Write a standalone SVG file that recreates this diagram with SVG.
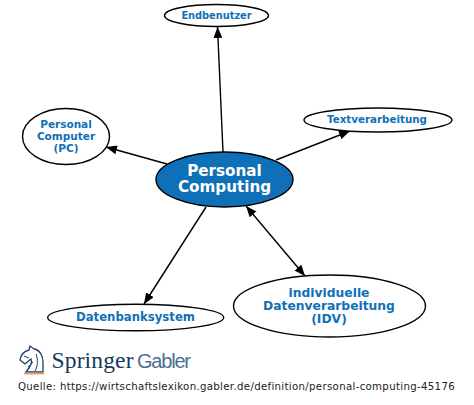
<svg xmlns="http://www.w3.org/2000/svg" width="474" height="405" viewBox="0 0 474 405">
<style>
.n{fill:#fff;stroke:#000;stroke-width:1.4}
.t{font-family:"DejaVu Sans",sans-serif;font-weight:bold;fill:#0f70b7;text-anchor:middle}
.c{stroke:#000;stroke-width:1.4;fill:none}
</style>
<defs>
<marker id="a" markerUnits="userSpaceOnUse" markerWidth="12" markerHeight="9" refX="11" refY="4.500" orient="auto-start-reverse"><path d="M0 0L11 4.500L0 9Z" fill="#000"/></marker>
</defs>
<rect width="474" height="405" fill="#fff"/>
<g id="connectors">
<path class="c" marker-end="url(#a)" d="M223 152L217.500 27"/>
<path class="c" marker-end="url(#a)" d="M167 164L106 147"/>
<path class="c" marker-end="url(#a)" d="M276 160L350 131"/>
<path class="c" marker-end="url(#a)" d="M206 207L144 304"/>
<path class="c" marker-start="url(#a)" marker-end="url(#a)" d="M246 206L305 276"/>
</g>
<g id="node-endbenutzer"><ellipse class="n" cx="216.500" cy="15.500" rx="52" ry="11"/><text class="t" x="216.500" y="19" font-size="9.800">Endbenutzer</text></g>
<g id="node-pc"><ellipse class="n" cx="66" cy="136.500" rx="43.500" ry="28"/><text class="t" font-size="10.500" x="66" y="128">Personal</text><text class="t" font-size="10.500" x="66" y="140">Computer</text><text class="t" font-size="10.500" x="66" y="151.500">(PC)</text></g>
<g id="node-central"><ellipse cx="224.500" cy="179.500" rx="68.500" ry="27.500" fill="#0f70b7" stroke="#000" stroke-width="1.400"/><text class="t" style="fill:#fff" font-size="15.200" x="224.500" y="176">Personal</text><text class="t" style="fill:#fff" font-size="15.200" x="224.500" y="192">Computing</text></g>
<g id="node-text"><ellipse class="n" cx="378" cy="120" rx="74" ry="12"/><text class="t" font-size="10.300" x="377" y="123">Textverarbeitung</text></g>
<g id="node-db"><ellipse class="n" cx="135.700" cy="317.500" rx="88" ry="13.300"/><text class="t" font-size="11.700" x="135.500" y="321">Datenbanksystem</text></g>
<g id="node-idv"><ellipse class="n" cx="329.500" cy="306" rx="96" ry="31"/><text class="t" font-size="12.300" x="329" y="296.500">individuelle</text><text class="t" font-size="12.300" x="329" y="309.500">Datenverarbeitung</text><text class="t" font-size="12.300" x="329" y="322.500">(IDV)</text></g>
<g id="logo">
<path d="M26 372C31 366 33 362 31 359L25 364L20 360C21 354 25 351 29 350L30 346L34 349C40 350 43 356 43 362C43 366 43 369 43 372Z" fill="none" stroke="#1f3f66" stroke-width="1.300"/>
<path d="M24 356L29 358M36 354C38 359 38 366 35 371M28 367L33 362" fill="none" stroke="#1f3f66" stroke-width="1"/>
<rect x="24" y="372.500" width="20" height="2" fill="#e8a06e"/>
<text x="51.500" y="368" font-family="'Liberation Serif',serif" font-size="23.500" fill="#17375e" textLength="82">Springer</text>
<text x="137" y="368" font-family="'Liberation Sans',sans-serif" font-size="20" fill="#4d6f8f" textLength="54">Gabler</text>
</g>
<text x="18" y="390" font-family="'DejaVu Sans',sans-serif" font-size="10.200" letter-spacing="0.300" fill="#222" textLength="437">Quelle: https://wirtschaftslexikon.gabler.de/definition/personal-computing-45176</text>
</svg>
